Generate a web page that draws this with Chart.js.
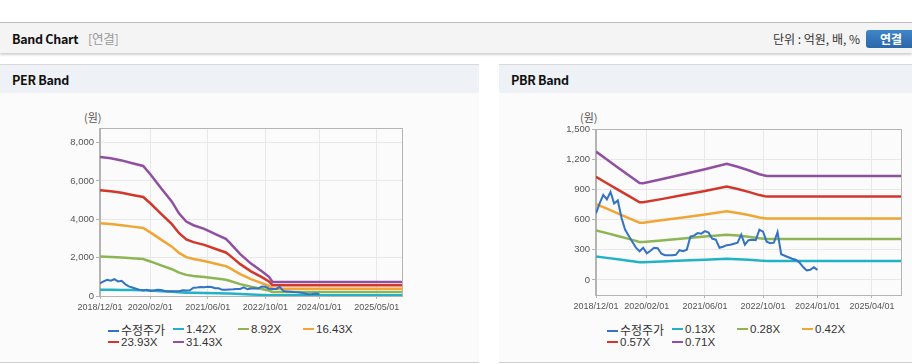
<!DOCTYPE html>
<html>
<head>
<meta charset="utf-8">
<title>Band Chart</title>
<script src="https://cdn.jsdelivr.net/npm/chart.js@4.4.2/dist/chart.umd.js"></script>
<style>
html, body {
    margin: 0;
    padding: 0;
    background: #fff;
    font-family: "Noto Sans CJK KR", "Liberation Sans", sans-serif;
}
#page {
    position: relative;
    width: 912px;
    height: 364px;
    overflow: hidden;
}
#topbar {
    position: absolute;
    left: 0; top: 22px;
    width: 912px; height: 30px;
    background: #f4f4f4;
    border-top: 1px solid #bdbdbd;
    box-shadow: 0 2px 2px rgba(0,0,0,0.18);
}
#topbar .title {
    position: absolute;
    left: 12px; top: 6px;
    font-size: 12.5px;
    font-weight: bold;
    color: #111;
    letter-spacing: -0.3px;
}
#topbar .title span {
    font-weight: normal;
    color: #999;
    margin-left: 10px;
}
#topbar .unit {
    position: absolute;
    right: 52px; top: 7px;
    font-size: 12px;
    color: #333;
}
#topbar .btn {
    position: absolute;
    left: 866px; top: 7px;
    width: 50px; height: 18px;
    border-radius: 3px;
    background: linear-gradient(#3f86c8, #2b67a9);
    color: #fff;
    font-size: 12px;
    font-weight: bold;
    text-align: center;
    line-height: 18px;
}
.panel {
    position: absolute;
    top: 64px;
    height: 297px;
    background: #fbfbfb;
    border-top: 1px solid #d9d9d9;
    border-bottom: 1px solid #cfcfcf;
}
.panel .head {
    height: 28px;
    background: #eef2f7;
    font-size: 12.5px;
    font-weight: bold;
    color: #111;
    line-height: 29px;
    padding-left: 12px;
    letter-spacing: -0.3px;
}
#perPanel { left: 0; width: 479px; }
#pbrPanel { left: 499px; width: 413px; }
.box {
    position: absolute;
    top: 120px;
    height: 200px;
}
#perBox { left: 40px; width: 372px; }
#pbrBox { left: 540px; width: 372px; }
.unitLabel {
    position: absolute;
    top: 109px;
    font-size: 11px;
    color: #555;
}
.legend {
    position: absolute;
    top: 323px;
    display: grid;
    grid-template-columns: 65px 65px 65px 65px;
    row-gap: 0px;
    font-size: 11.5px;
    color: #333;
    font-family: "Liberation Sans", "Noto Sans CJK KR", sans-serif;
}
.legend div {
    height: 13px;
    line-height: 13px;
    white-space: nowrap;
}
.legend i {
    display: inline-block;
    width: 11px;
    height: 2px;
    margin-right: 2px;
    vertical-align: middle;
    position: relative;
    top: -1px;
}
.legend .ko {
    font-family: "Noto Sans CJK KR", sans-serif;
    font-size: 12px;
}
</style>
</head>
<body>
<div id="page">
    <div id="topbar">
        <div class="title">Band Chart<span>[연결]</span></div>
        <div class="unit">단위 : 억원, 배, %</div>
        <div class="btn">연결</div>
    </div>
    <div class="panel" id="perPanel"><div class="head">PER Band</div></div>
    <div class="panel" id="pbrPanel"><div class="head">PBR Band</div></div>

    <div class="unitLabel" style="left:84px">(원)</div>
    <div class="unitLabel" style="left:580px">(원)</div>
    <div class="box" id="perBox"><canvas id="perChart"></canvas></div>
    <div class="box" id="pbrBox"><canvas id="pbrChart"></canvas></div>
    <div class="legend" id="perLegend" style="left:108px"></div>
    <div class="legend" id="pbrLegend" style="left:607px"></div>
</div>
<script>
// x values are months counted from 2018/12/01

// adjusted share price (monthly, 2018/12 .. 2024/01)
const price = [660, 760, 845, 800, 875, 760, 790, 620, 500, 440,
               380, 320, 285, 320, 265, 290, 320, 315, 260, 245,
               245, 245, 250, 295, 285, 300, 430, 440, 465, 460,
               485, 470, 410, 400, 320, 330, 345, 350, 360, 370,
               450, 350, 395, 400, 395, 500, 480, 380, 365, 370,
               475, 255, 240, 225, 210, 200, 175, 130, 95, 100,
               125, 100];

// PER band
const perLabels = ["수정주가", "1.42X", "8.92X", "16.43X", "23.93X", "31.43X"];
const perMonths = [0, 3, 6, 9, 12, 14, 17, 20, 22, 24, 26, 29, 33, 35, 36, 39, 42, 45, 47, 48, 84];
const per142  = [328, 324, 319, 313, 306, 287, 254, 222, 194, 175, 167, 158, 142, 135, 127, 98, 76, 58, 45, 33, 33];
const per892  = [2058, 2038, 2006, 1964, 1924, 1802, 1595, 1396, 1220, 1101, 1047, 993, 894, 846, 795, 619, 480, 366, 284, 207, 207];
const per1643 = [3790, 3753, 3695, 3617, 3544, 3319, 2938, 2572, 2248, 2028, 1929, 1829, 1647, 1558, 1464, 1140, 883, 674, 523, 382, 382];
const per2393 = [5520, 5467, 5383, 5269, 5162, 4835, 4279, 3746, 3273, 2954, 2810, 2665, 2398, 2269, 2132, 1660, 1287, 982, 761, 556, 556];
const per3143 = [7250, 7180, 7070, 6920, 6780, 6350, 5620, 4920, 4300, 3880, 3690, 3500, 3150, 2980, 2800, 2180, 1690, 1290, 1000, 730, 730];
const perTickMonths = [0, 14, 30, 46, 61, 77];
const perTickLabels = ["2018/12/01", "2020/02/01", "2021/06/01", "2022/10/01", "2024/01/01", "2025/05/01"];
const perYTicks = [0, 2000, 4000, 6000, 8000];

// PBR band
const pbrLabels = ["수정주가", "0.13X", "0.28X", "0.42X", "0.57X", "0.71X"];
const pbrMonths = [0, 3, 6, 9, 12, 13, 18, 24, 30, 36, 39, 42, 45, 47, 84];
const pbr013 = [233, 219, 205, 190, 176, 176, 183, 192, 201, 211, 206, 200, 192, 189, 189];
const pbr028 = [492, 465, 436, 408, 378, 377, 392, 412, 432, 450, 441, 428, 413, 406, 406];
const pbr042 = [754, 708, 661, 615, 569, 568, 592, 621, 651, 683, 665, 645, 621, 610, 610];
const pbr057 = [1024, 961, 898, 835, 772, 771, 803, 843, 883, 927, 903, 875, 843, 828, 828];
const pbr071 = [1275, 1197, 1118, 1040, 962, 960, 1000, 1050, 1100, 1155, 1125, 1090, 1050, 1032, 1032];
const pbrTickMonths = [0, 14, 30, 46, 61, 76];
const pbrTickLabels = ["2018/12/01", "2020/02/01", "2021/06/01", "2022/10/01", "2024/01/01", "2025/04/01"];
const pbrYTicks = [0, 300, 600, 900, 1200, 1500];

const colors = ["#3472c4", "#22b2c6", "#8db553", "#f0a534", "#d1372b", "#914fa1"];

Chart.defaults.font.family = "'Liberation Sans', Arial, sans-serif";
Chart.defaults.font.size = 9.5;
Chart.defaults.color = "#555";

const toPoints = (xs, ys) => ys.map((y, i) => ({x: xs[i], y: y}));

const plotBorder = {
    id: "plotBorder",
    afterDraw(chart) {
        const a = chart.chartArea;
        const ctx = chart.ctx;
        ctx.save();
        ctx.strokeStyle = "#b4b4b4";
        ctx.lineWidth = 1;
        ctx.strokeRect(Math.round(a.left) - 0.5, Math.round(a.top) + 0.5,
                       Math.round(a.right - a.left) + 1, Math.round(a.bottom - a.top));
        ctx.restore();
    }
};

createBandChart = (id, opts) => {
    const datasets = [{
        label: opts.labels[0],
        data: price.map((y, i) => ({x: i, y: y})),
        borderColor: colors[0],
        borderWidth: 2
    }];
    opts.bands.forEach((band, k) => {
        datasets.push({
            label: opts.labels[k + 1],
            data: toPoints(opts.months, band),
            borderColor: colors[k + 1],
            borderWidth: 2.5
        });
    });

    return new Chart(document.getElementById(id), {
        type: "line",
        data: {datasets: datasets},
        options: {
            responsive: true,
            maintainAspectRatio: false,
            animation: false,
            layout: {padding: {top: opts.padTop, right: opts.padRight, left: 0, bottom: 0}},
            elements: {point: {radius: 0}, line: {tension: 0}},
            plugins: {legend: {display: false}, tooltip: {enabled: false}},
            scales: {
                x: {
                    type: "linear",
                    min: 0,
                    max: 84,
                    afterBuildTicks: (scale) => {
                        scale.ticks = opts.tickMonths.map(v => ({value: v}));
                    },
                    afterFit: (scale) => { scale.height = opts.xHeight; },
                    ticks: {
                        autoSkip: false,
                        maxRotation: 0,
                        padding: 3,
                        font: {size: 9},
                        callback: (v) => opts.tickLabels[opts.tickMonths.indexOf(v)]
                    },
                    grid: {color: "#e8e8e8", tickLength: 3, tickColor: "#b4b4b4"},
                    border: {color: "#b4b4b4"}
                },
                y: {
                    min: opts.yMin,
                    max: opts.yMax,
                    afterBuildTicks: (scale) => {
                        scale.ticks = opts.yTicks.map(v => ({value: v}));
                    },
                    afterFit: (scale) => { scale.width = opts.yWidth; },
                    ticks: {
                        padding: 2,
                        callback: (v) => v.toLocaleString("en-US")
                    },
                    grid: {color: "#e8e8e8", tickLength: 4, tickColor: "#b4b4b4"},
                    border: {color: "#b4b4b4"}
                }
            }
        },
        plugins: [plotBorder]
    });
};

buildLegend = (id, labels) => {
    const el = document.getElementById(id);
    labels.forEach((label, k) => {
        const item = document.createElement("div");
        const cls = /[가-힣]/.test(label) ? " class=\"ko\"" : "";
        item.innerHTML = "<i style=\"background:" + colors[k] + "\"></i><span" + cls + ">" + label + "</span>";
        el.appendChild(item);
    });
};

createBandChart("perChart", {
    labels: perLabels,
    months: perMonths,
    bands: [per142, per892, per1643, per2393, per3143],
    tickMonths: perTickMonths,
    tickLabels: perTickLabels,
    yTicks: perYTicks,
    yMin: 0,
    yMax: 8760,
    yWidth: 60,
    xHeight: 24,
    padTop: 8,
    padRight: 10
});

createBandChart("pbrChart", {
    labels: pbrLabels,
    months: pbrMonths,
    bands: [pbr013, pbr028, pbr042, pbr057, pbr071],
    tickMonths: pbrTickMonths,
    tickLabels: pbrTickLabels,
    yTicks: pbrYTicks,
    yMin: -150,
    yMax: 1500,
    yWidth: 56,
    xHeight: 25,
    padTop: 9,
    padRight: 11
});

buildLegend("perLegend", perLabels);
buildLegend("pbrLegend", pbrLabels);
</script>
</body>
</html>
